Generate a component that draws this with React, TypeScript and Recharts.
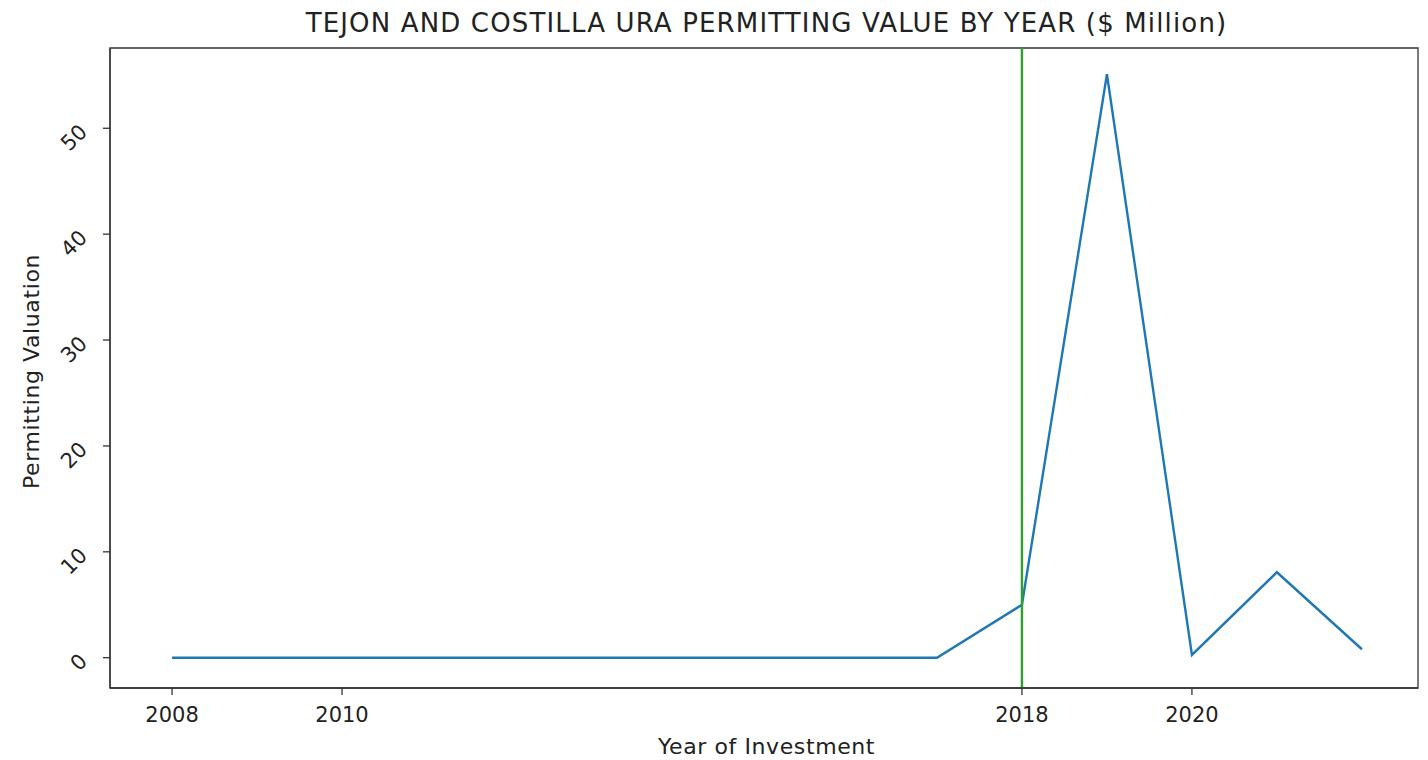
import React from 'react';
import { LineChart, Line, XAxis, YAxis, ReferenceLine, ReferenceArea } from 'recharts';

const years = [2008, 2009, 2010, 2011, 2012, 2013, 2014, 2015, 2016, 2017, 2018, 2019, 2020, 2021, 2022];
const values = [0, 0, 0, 0, 0, 0, 0, 0, 0, 0, 5.0, 55.1, 0.26, 8.07, 0.8];
const xTicks = [2008, 2010, 2018, 2020];
const yTicks = [0, 10, 20, 30, 40, 50];
const markerYear = 2018;
const xDomain = [2007.27, 2022.66];
const yDomain = [-2.86, 57.58];

const titleText = 'TEJON AND COSTILLA URA PERMITTING VALUE BY YEAR ($ Million)';
const xLabelText = 'Year of Investment';
const yLabelText = 'Permitting Valuation';

const data = years.map((y, i) => ({ year: y, value: values[i] }));

const FONT = '"DejaVu Sans", sans-serif';
const TEXT = '#222';
const SPINE = '#333';

const XTick = (props: any) => {
  const { x, y, payload } = props;
  return (
    <text x={x} y={y + 25} textAnchor="middle" fontSize={21} fill={TEXT} fontFamily={FONT}>
      {payload.value}
    </text>
  );
};

const YTick = (props: any) => {
  const { x, y, payload } = props;
  const ax = x - 17.5;
  return (
    <text
      x={ax}
      y={y}
      textAnchor="end"
      dominantBaseline="central"
      fontSize={21}
      fill={TEXT}
      fontFamily={FONT}
      transform={`rotate(-45, ${ax}, ${y})`}
    >
      {payload.value}
    </text>
  );
};

export default function App() {
  return (
    <div style={{ position: 'absolute', left: 0, top: 0, width: 1428, height: 760, background: '#fff' }}>
      <LineChart
        width={1428}
        height={760}
        data={data}
        margin={{ top: 48, right: 10, left: 0, bottom: 0 }}
      >
        <XAxis
          dataKey="year"
          type="number"
          domain={xDomain}
          ticks={xTicks}
          allowDataOverflow
          height={72}
          tickSize={7}
          tick={<XTick />}
          axisLine={{ stroke: SPINE, strokeWidth: 1.3 }}
          tickLine={{ stroke: SPINE, strokeWidth: 1.3 }}
        />
        <YAxis
          type="number"
          domain={yDomain}
          ticks={yTicks}
          allowDataOverflow
          width={110}
          tickSize={7}
          tick={<YTick />}
          axisLine={{ stroke: SPINE, strokeWidth: 1.3 }}
          tickLine={{ stroke: SPINE, strokeWidth: 1.3 }}
        />
        <ReferenceArea
          x1={xDomain[0]}
          x2={xDomain[1]}
          y1={yDomain[0]}
          y2={yDomain[1]}
          fill="none"
          fillOpacity={0}
          stroke={SPINE}
          strokeWidth={1.3}
          ifOverflow="visible"
        />
        <Line
          type="linear"
          dataKey="value"
          stroke="#1f77b4"
          strokeWidth={2.4}
          dot={false}
          activeDot={false}
          isAnimationActive={false}
        />
        <ReferenceLine x={markerYear} stroke="#2ca02c" strokeWidth={2.4} />
        <text x={766.5} y={32} textAnchor="middle" fontSize={26} letterSpacing={1.15} fill={TEXT} fontFamily={FONT}>
          {titleText}
        </text>
        <text x={766.5} y={754} textAnchor="middle" fontSize={22} letterSpacing={0.6} fill={TEXT} fontFamily={FONT}>
          {xLabelText}
        </text>
        <text
          x={39}
          y={371.5}
          textAnchor="middle"
          fontSize={22}
          letterSpacing={0.6}
          fill={TEXT}
          fontFamily={FONT}
          transform="rotate(-90, 39, 371.5)"
        >
          {yLabelText}
        </text>
      </LineChart>
    </div>
  );
}
